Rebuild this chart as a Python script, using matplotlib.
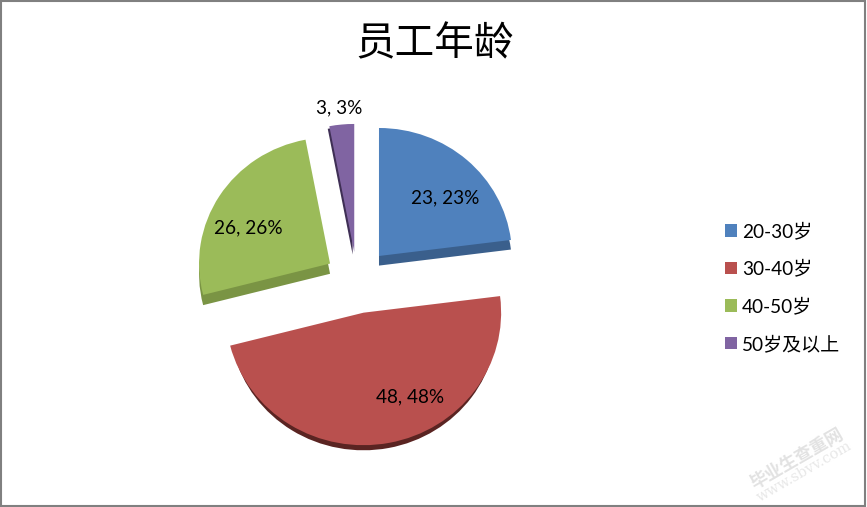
import numpy as np
import matplotlib
matplotlib.use('Agg')
import matplotlib.pyplot as plt
from matplotlib.patches import Rectangle

plt.rcParams['font.family'] = ['Lato', 'Noto Sans CJK SC']

categories = ['20-30岁', '30-40岁', '40-50岁', '50岁及以上']
values = [23, 48, 26, 3]
percents = [23, 48, 26, 3]

colors = ['#4F81BD', '#B9504E', '#9BBB59', '#8064A2']
side_colors = ['#3A5F8C', '#5A2422', '#7A9444', '#3F2F55']
explode = [0.25, 0.26, 0.24, 0.22]
# front slice looks bigger, the chart was drawn with perspective
radii = [1.0, 1.035, 0.985, 1.0]
# depth of the 3d edge for each slice: dx, dy, radius change
depth = [(0.0, -0.075, 0.0), (0.0, -0.07, -0.03), (0.0, -0.08, 0.0), (-0.012, -0.02, 0.0)]

W, H = 867, 507
cx, cy, rx, ry = 357, 280, 133, 128

fig = plt.figure(figsize=(W / 100, H / 100), dpi=100, facecolor='white')
ax = fig.add_axes([0, 0, 1, 1])

# darker copy underneath gives the 3d edge
side_wedges, _ = ax.pie(values, explode=explode, colors=side_colors, startangle=90,
                        counterclock=False, wedgeprops={'linewidth': 0, 'zorder': 1})
wedges, _ = ax.pie(values, explode=explode, colors=colors, startangle=90,
                   counterclock=False, wedgeprops={'linewidth': 0, 'zorder': 2})

for w, r in zip(wedges, radii):
    w.set_radius(r)
for w, r, (dx, dy, dr) in zip(side_wedges, radii, depth):
    x, y = w.center
    w.set_center((x + dx, y + dy))
    w.set_radius(r + dr)

ax.set_aspect('auto')
ax.set_xlim(-cx / rx, (W - cx) / rx)
ax.set_ylim(-(H - cy) / ry, cy / ry)
ax.axis('off')

# data labels
label_pos = [(445, 198), (410, 397), (248, 228), (339, 108)]
for v, p, (x, y) in zip(values, percents, label_pos):
    fig.text(x / W, 1 - y / H, f'{v}, {p}%', ha='center', va='center',
             fontsize=13.7, color='black', zorder=5)

fig.text(435 / W, 1 - 44 / H, '员工年龄', ha='center', va='center',
         fontsize=28.5, color='black')

fig.legend(wedges, categories, loc='upper left',
           bbox_to_anchor=(710 / W, 1 - 207 / H), frameon=False,
           fontsize=13.7, labelspacing=1.03, handlelength=0.63,
           handleheight=0.63, handletextpad=0.24, borderpad=0.3)

# watermark
fig.text(797 / W, 1 - 458 / H, '毕业生查重网', rotation=30, ha='center', va='center',
         fontsize=12.5, color='#E2E2E2', fontweight='bold', rotation_mode='anchor')
fig.text(804 / W, 1 - 472 / H, 'www.sbvv.com', rotation=30, ha='center', va='center',
         fontsize=10.5, color='#E8E8E8', family='DejaVu Serif', rotation_mode='anchor')

# chart border
fig.add_artist(Rectangle((0.5 / W, 1.5 / H), 864.5 / W, 504.5 / H, transform=fig.transFigure,
                         fill=False, edgecolor='#808080', linewidth=1.5))

fig.savefig('out.png', dpi=100)
